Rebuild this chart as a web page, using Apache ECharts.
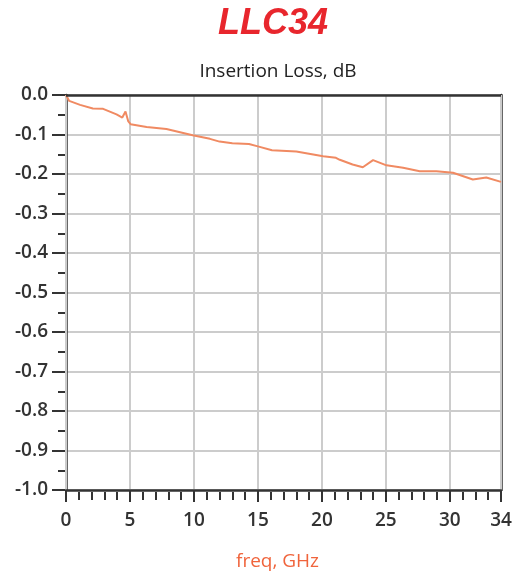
<!DOCTYPE html>
<html>
<head>
<meta charset="utf-8">
<script src="https://cdn.jsdelivr.net/npm/echarts@6/dist/echarts.min.js"></script>
<style>
  html, body { margin: 0; padding: 0; background: #fff; }
  #chart { width: 526px; height: 576px; }
</style>
</head>
<body>
<div id="chart"></div>
<script>
// values
const freqGHz = [0, 0.25, 1.1, 2.1, 2.9, 3.95, 4.4, 4.65, 4.87, 5.05, 6.3, 7.85, 9.9, 11.25, 12.0, 13.0, 14.3, 15.0, 16.1, 18.0, 20.1, 21.1, 21.4, 22.4, 23.2, 24.0, 25.05, 26.35, 27.65, 28.95, 30.25, 31.8, 32.85, 34];
const lossDb = [0, -0.015, -0.025, -0.034, -0.035, -0.049, -0.057, -0.042, -0.067, -0.074, -0.081, -0.086, -0.102, -0.111, -0.118, -0.122, -0.124, -0.13, -0.14, -0.143, -0.155, -0.159, -0.164, -0.176, -0.183, -0.165, -0.178, -0.184, -0.193, -0.193, -0.197, -0.214, -0.209, -0.22];

const chart = echarts.init(document.getElementById("chart"));
const dark = "#333";
const gridGray = "#cccccc";
const font = "'Open Sans', sans-serif";
const plotH = 397; // grid height, used to drop the minor-tick axis onto the bottom edge

const data = freqGHz.map((f, i) => [f, lossDb[i]]);

chart.setOption({
  animation: false,
  title: [
    {
      text: "LLC34",
      left: 268,
      top: 1,
      textAlign: "center",
      textStyle: { color: "#e8262d", fontSize: 36, fontWeight: "bold", fontStyle: "italic", fontFamily: "'Liberation Sans', Arial, sans-serif" },
    },
    {
      text: "Insertion Loss, dB",
      left: 273,
      top: 57,
      textAlign: "center",
      textStyle: { color: "#222", fontSize: 19, fontWeight: "normal", fontFamily: font },
    },
  ],
  grid: { left: 66, right: 25, top: 95, bottom: 84 },
  xAxis: [
    {
      type: "value",
      min: 0,
      max: 34,
      interval: 5,
      name: "freq, GHz",
      nameLocation: "middle",
      nameGap: 62,
      nameTextStyle: { color: "#f0643c", fontSize: 19, fontFamily: font, padding: [0, 12, 0, 0] },
      axisLine: { onZero: false, lineStyle: { color: dark, width: 2.5 } },
      axisTick: { length: 12, lineStyle: { color: dark, width: 2 } },
      axisLabel: { color: dark, fontSize: 19, fontWeight: 600, fontFamily: font, margin: 21 },
      splitLine: { show: true, lineStyle: { color: gridGray, width: 2 } },
      z: 3,
    },
    {
      // minor ticks every 1 GHz (top axis moved down to the bottom edge)
      type: "value",
      position: "top",
      offset: -plotH,
      min: 0,
      max: 34,
      interval: 1,
      axisLine: { show: false },
      axisTick: { inside: true, length: 8, lineStyle: { color: dark, width: 2 } },
      axisLabel: { show: false },
      splitLine: { show: false },
    },
  ],
  yAxis: [
    {
      type: "value",
      min: -1,
      max: 0,
      interval: 0.1,
      axisLine: { show: true, onZero: false, lineStyle: { color: dark, width: 2.5 } },
      axisTick: { show: true, length: 14, lineStyle: { color: dark, width: 2 } },
      minorTick: { show: true, splitNumber: 2, length: 8, lineStyle: { color: dark, width: 2 } },
      axisLabel: {
        color: dark,
        fontSize: 19,
        fontWeight: 600,
        fontFamily: font,
        margin: 18,
        formatter: (v) => v.toFixed(1),
      },
      splitLine: { show: true, lineStyle: { color: gridGray, width: 2 } },
    },
    {
      // right frame line
      type: "value",
      position: "right",
      min: -1,
      max: 0,
      axisLine: { show: true, onZero: false, lineStyle: { color: dark, width: 2.5 } },
      axisTick: { show: false },
      axisLabel: { show: false },
      splitLine: { show: false },
    },
  ],
  series: [
    {
      type: "line",
      xAxisIndex: 0,
      yAxisIndex: 0,
      data,
      showSymbol: false,
      lineStyle: { color: "#f08a62", width: 2 },
      z: 4,
      // top frame line at 0 dB
      markLine: {
        silent: true,
        symbol: "none",
        label: { show: false },
        lineStyle: { color: dark, width: 2.5, type: "solid" },
        data: [{ yAxis: 0 }],
      },
    },
  ],
});
</script>
</body>
</html>
